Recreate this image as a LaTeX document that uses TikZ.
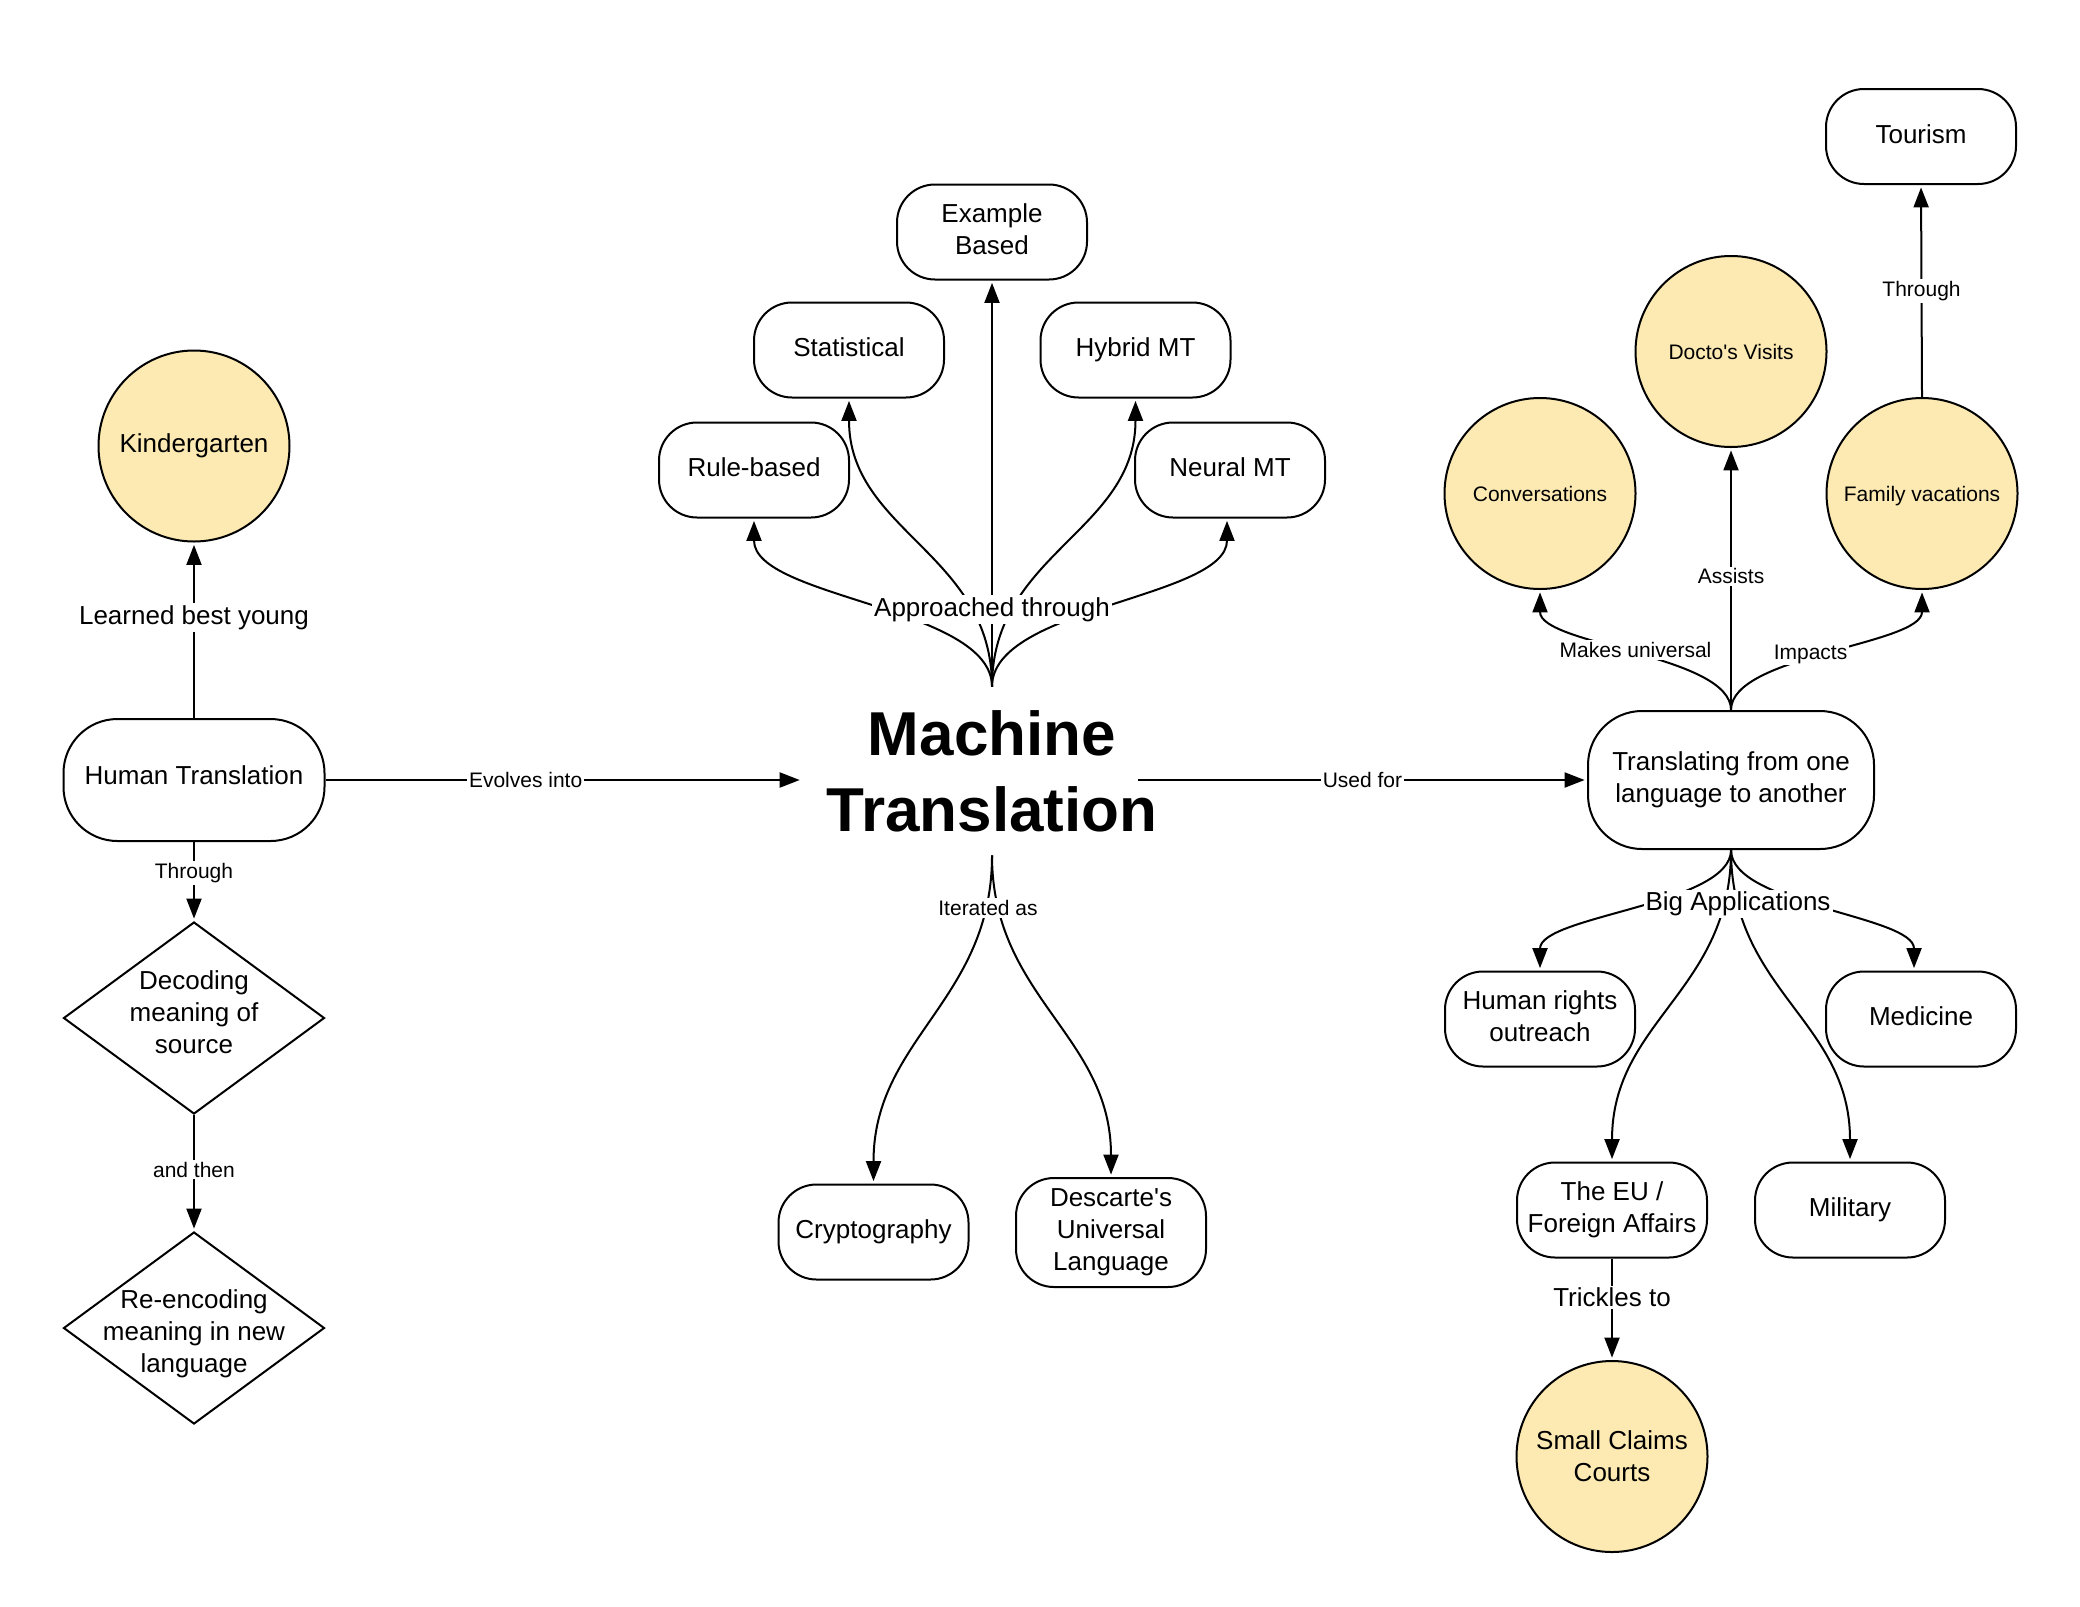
\documentclass[tikz,border=0pt]{standalone}
\usepackage{fontspec}
\setmainfont{Liberation Sans}
\newfontfamily\lsans{Liberation Sans}
\usetikzlibrary{shapes.geometric,arrows.meta}
\definecolor{circfill}{RGB}{252,234,178}
\tikzset{
  base/.style={draw=black, line width=1pt, align=center, inner sep=0pt, font=\lsans\fontsize{13}{16}\selectfont},
  rbox/.style={base, rectangle, rounded corners=19pt, minimum width=95pt, minimum height=47.5pt, text depth=2.8pt},
  bigbox/.style={base, rectangle, rounded corners=27pt, text depth=2.8pt},
  circ/.style={base, circle, fill=circfill, minimum size=95.5pt},
  smallcirc/.style={circ, font=\lsans\fontsize{10.5}{13}\selectfont},
  dia/.style={base, diamond, minimum width=130.5pt, minimum height=96pt},
  conn/.style={line width=1pt, shorten >=1.2pt, -{Triangle[length=10pt,width=7.5pt]}},
  lab/.style={fill=white, inner sep=1pt, font=\lsans\fontsize{13}{16}\selectfont},
  slab/.style={fill=white, inner sep=1pt, font=\lsans\fontsize{10.5}{13}\selectfont},
  diatext/.style={align=center, inner sep=0pt, font=\lsans\fontsize{13}{16}\selectfont},
  title/.style={align=center, inner sep=0pt, font=\lsans\bfseries\fontsize{31}{38}\selectfont, minimum width=189.5pt, minimum height=84pt},
}
\begin{document}
\begin{tikzpicture}[x=0.5pt,y=-0.5pt]
\fill[white] (0,0) rectangle (2080,1606);
\useasboundingbox (0,0) rectangle (2080,1606);

% left column
\node[circ] (kg) at (194,446) {Kindergarten};
\node[bigbox, minimum width=130.5pt, minimum height=61pt, text depth=4.6pt] (ht) at (194,780) {Human Translation};
\node[dia, label={[diatext, yshift=3pt]center:Decoding\\meaning of\\source}] (dec) at (194,1018) {};
\node[dia, label={[diatext, yshift=-3pt]center:Re-encoding\\meaning in new\\language}] (reenc) at (194,1328) {};

% center
\node[title] (mt) at (992,771) {Machine\\Translation};
\node[rbox] (rule) at (754,470) {Rule-based};
\node[rbox] (stat) at (849,350) {Statistical};
\node[rbox] (ex) at (992,232) {Example\\Based};
\node[rbox] (hyb) at (1135.5,350) {Hybrid MT};
\node[rbox] (neu) at (1230,470) {Neural MT};
\node[rbox] (cry) at (873.5,1232) {Cryptography};
\node[rbox, minimum height=54.5pt] (des) at (1111,1232.5) {Descarte's\\Universal\\Language};

% right
\node[bigbox, minimum width=143pt, minimum height=69pt] (tr) at (1731,780) {Translating from one\\language to another};
\node[smallcirc] (conv) at (1540,493.5) {Conversations};
\node[smallcirc] (doc) at (1731,351.5) {Docto's Visits};
\node[smallcirc, text height=10.2pt] (fam) at (1922,493.5) {Family vacations};
\node[rbox] (tour) at (1921,136.5) {Tourism};
\node[rbox] (hr) at (1540,1019) {Human rights\\outreach};
\node[rbox] (med) at (1921,1019) {Medicine};
\node[rbox] (eu) at (1612,1210) {The EU /\\Foreign Affairs};
\node[rbox] (mil) at (1850,1210) {Military};
\node[circ] (scc) at (1612,1456.5) {Small Claims\\Courts};

% left connectors
\draw[conn] (ht.north) -- node[lab, pos=0.573] {Learned best young} (kg.south);
\draw[conn] (ht.south) -- node[slab, pos=0.39] {Through} (dec.north);
\draw[conn] (dec.south) -- node[slab, pos=0.47] {and then} (reenc.north);
\draw[conn] (ht.east) -- node[slab, pos=0.42] {Evolves into} (ht.east -| mt.west);
\draw[conn] ([xshift=-22pt]mt.east |- tr.west) -- node[slab] {Used for} (tr.west);

% top fan
\draw[conn] (mt.north) .. controls +(0,-80) and +(0,80) .. (rule.south);
\draw[conn] (mt.north) .. controls +(0,-133) and +(0,133) .. (stat.south);
\draw[conn] (mt.north) .. controls +(0,-133) and +(0,133) .. (hyb.south);
\draw[conn] (mt.north) .. controls +(0,-80) and +(0,80) .. ([xshift=-1.5pt]neu.south);
\draw[conn] (mt.north) -- node[lab, pos=0.19] {Approached through} (ex.south);

% bottom fan
\draw[conn] (mt.south) .. controls +(0,145) and +(0,-145) .. (cry.north);
\draw[conn] (mt.south) .. controls +(0,142) and +(0,-142) .. (des.north);
\node[slab] (itlab) at (988,908) {Iterated as};

% right top
\draw[conn] (tr.north) .. controls +(0,-55) and +(0,55) .. node[slab] {Makes universal} (conv.south);
\draw[conn] (tr.north) -- node[slab, pos=0.51] {Assists} (doc.south);
\draw[conn] (tr.north) .. controls +(0,-55) and +(0,55) .. node[slab, xshift=-8pt, yshift=-2pt] {Impacts} (fam.south);
\draw[conn] (fam.north) -- node[slab] {Through} (tour.south);

% right bottom
\draw[conn] (tr.south) .. controls +(0,55) and +(0,-55) .. (hr.north);
\draw[conn] (tr.south) .. controls +(0,55) and +(0,-55) .. ([xshift=-3.5pt]med.north);
\draw[conn] (tr.south) .. controls +(0,141) and +(0,-141) .. (eu.north);
\draw[conn] (tr.south) .. controls +(0,141) and +(0,-141) .. (mil.north);
\node[lab] (balab) at (1738,904) {Big Applications};
\draw[conn] (eu.south) -- node[lab, pos=0.38] {Trickles to} (scc.north);
\end{tikzpicture}
\end{document}
